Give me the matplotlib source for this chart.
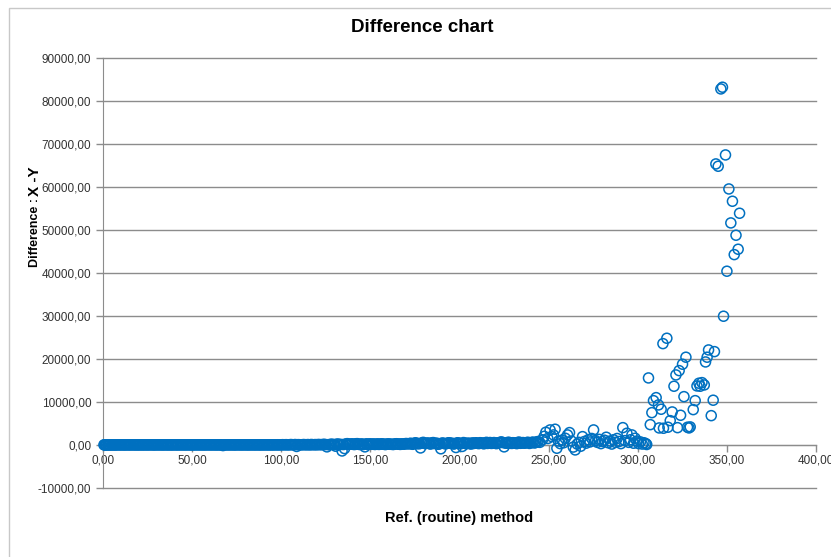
import matplotlib.pyplot as plt
from matplotlib.patches import Rectangle
from matplotlib.ticker import FuncFormatter, MultipleLocator

plt.rcParams['font.family'] = ['Liberation Sans', 'DejaVu Sans']

# near-zero differences over the low range of the reference method
flat_x = [
    0.5, 1.2, 2.0, 3.1, 4.0, 5.2, 6.5, 7.3, 8.8, 10.0,
    11.4, 12.6, 14.0, 15.3, 16.8, 18.1, 19.5, 20.7, 22.2, 23.6,
    25.0, 26.4, 27.9, 29.1, 30.6, 32.0, 33.5, 34.8, 36.2, 37.7,
    39.0, 40.5, 41.8, 43.3, 44.7, 46.1, 47.6, 49.0, 50.3, 51.8,
    53.2, 54.6, 56.1, 57.4, 58.9, 60.3, 61.7, 63.2, 64.5, 66.0,
    67.3, 68.8, 70.2, 71.6, 73.1, 74.4, 75.9, 77.3, 78.7, 80.2,
    81.5, 83.0, 84.4, 85.8, 87.3, 88.6, 90.1, 91.5, 92.9, 94.4,
    95.7, 97.2, 98.6, 100.0, 101.5, 102.8, 104.3, 105.7, 107.1, 108.6,
    109.9, 111.4, 112.8, 114.2, 115.7, 117.0, 118.5, 119.9, 121.3, 122.8,
    124.1, 125.6, 127.0, 128.4, 129.9, 131.2, 132.7, 134.1, 135.5, 137.0,
    138.3, 139.8, 141.2, 142.6, 144.1, 145.4, 146.9, 148.3, 149.7, 151.2,
    152.5, 154.0, 155.4, 156.8, 158.3, 159.6, 161.1, 162.5, 163.9, 165.4,
    166.7, 168.2, 169.6, 171.0, 172.5, 173.8, 175.3, 176.7, 178.1, 179.6,
    180.9, 182.4, 183.8, 185.2, 186.7, 188.0, 189.5, 190.9, 192.3, 193.8,
    195.1, 196.6, 198.0, 199.4, 200.9, 202.2, 203.7, 205.1, 206.5, 208.0,
    209.3, 210.8, 212.2, 213.6, 215.1, 216.4, 217.9, 219.3, 220.7, 222.2,
    223.5, 225.0, 226.4, 227.8, 229.3, 230.6, 232.1, 233.5, 234.9, 236.4,
    237.7, 239.2, 240.6, 242.0, 243.5,
]
flat_y = [
    20, 15, 30, 10, 25, 5, 20, 15, 10, 30,
    25, 10, 20, 15, 30, 5, 20, 25, 10, 15,
    20, 30, 10, 25, 15, 20, 5, 30, 15, 20,
    10, 25, 20, 15, 30, 10, 20, 25, 15, 20,
    30, 15, 10, 25, 20, 15, 30, 10, 20, 25,
    -150, 30, 20, 15, 25, 10, 30, 20, 15, 25,
    20, 15, 30, 10, 25, 20, 15, 30, 20, 10,
    25, 20, 15, 30, 40, 60, 20, 80, 50, -350,
    60, 30, 80, 40, 20, 100, 60, 30, 80, 50,
    120, -450, 60, 150, 80, 200, 100, -1400, -850, 300,
    150, 250, 100, 300, 80, 200, -450, 120, 250, 180,
    100, 250, 150, 200, 80, 220, 150, 100, 250, 180,
    120, 200, 300, 250, 400, 150, 500, 350, -700, 600,
    300, 450, 200, 550, 350, 150, -900, 400, 250, 500,
    350, 200, -600, 450, 300, 550, 250, 400, 200, 350,
    500, 300, 450, 250, 600, 400, 350, 550, 300, 500,
    700, -450, 400, 600, 350, 500, 300, 650, 450, 400,
    550, 350, 600, 450, 700,
]

# second run of samples in the same low range
flat2_x = [
    0.9, 1.6, 2.6, 3.5, 4.6, 5.8, 6.9, 8.0, 9.4, 10.7,
    12.0, 13.3, 14.6, 16.0, 17.4, 18.8, 20.1, 21.5, 22.9, 24.3,
    25.7, 27.1, 28.5, 29.8, 31.3, 32.7, 34.1, 35.5, 36.9, 38.3,
    39.7, 41.1, 42.5, 44.0, 45.4, 46.8, 48.3, 49.6, 51.0, 52.5,
    53.9, 55.3, 56.7, 58.1, 59.6, 61.0, 62.4, 63.8, 65.2, 66.6,
    68.0, 69.5, 70.9, 72.3, 73.7, 75.1, 76.6, 78.0, 79.4, 80.8,
    82.2, 83.7, 85.1, 86.5, 87.9, 89.3, 90.8, 92.2, 93.6, 95.0,
    96.4, 97.9, 99.3, 100.7, 102.1, 103.5, 105.0, 106.4, 107.8, 109.2,
    110.6, 112.1, 113.5, 114.9, 116.3, 117.7, 119.2, 120.6, 122.0, 123.4,
    124.8, 126.3, 127.7, 129.1, 130.5, 131.9, 133.4, 134.8, 136.2, 137.6,
    139.0, 140.5, 141.9, 143.3, 144.7, 146.1, 147.6, 149.0, 150.4, 151.8,
    153.2, 154.7, 156.1, 157.5, 158.9, 160.3, 161.8, 163.2, 164.6, 166.0,
    167.4, 168.9, 170.3, 171.7, 173.1, 174.5, 176.0, 177.4, 178.8, 180.2,
    181.6, 183.1, 184.5, 185.9, 187.3, 188.7, 190.2, 191.6, 193.0, 194.4,
    195.8, 197.3, 198.7, 200.1, 201.5, 202.9, 204.4, 205.8, 207.2, 208.6,
    210.0, 211.5, 212.9, 214.3, 215.7, 217.1, 218.6, 220.0, 221.4, 222.8,
    224.2, 225.7, 227.1, 228.5, 229.9, 231.3, 232.8, 234.2, 235.6, 237.0,
    238.4, 239.9, 241.3, 242.7, 244.1,
]
flat2_y = [
    10, 25, 15, 20, 10, 30, 15, 20, 25, 10,
    15, 30, 20, 10, 25, 15, 20, 10, 30, 20,
    15, 25, 20, 10, 30, 15, 25, 20, 10, 15,
    25, 20, 10, 30, 15, 20, 25, 10, 15, 30,
    20, 25, 15, 10, 30, 20, 15, 25, 10, 20,
    25, 15, 30, 20, 10, 25, 15, 20, 30, 10,
    15, 25, 20, 30, 10, 15, 25, 20, 10, 30,
    20, 40, 30, 60, 50, 30, 70, 40, 90, 60,
    40, 70, 50, 90, 60, 40, 80, 100, 70, 120,
    90, 60, 150, 100, -300, 180, 120, 90, 220, 150,
    200, 120, 280, 160, 220, 100, 260, 180, 140, 230,
    170, 120, 260, 200, 150, 240, 180, 130, 280, 210,
    250, 180, 320, 280, 220, 380, 300, 260, 450, 380,
    420, 300, 480, 320, 400, 250, 450, 300, 380, 460,
    400, 300, 500, 350, -350, 450, 380, 320, 480, 420,
    380, 520, 400, 480, 350, 560, 450, 380, 500, 620,
    550, 420, 600, 380, 520, 450, 600, 380, 550, 500,
    620, 480, 650, 580, 800,
]

# scatter picks up between 245 and 305
rise_x = [
    245.0, 246.5, 247.5, 248.4, 249.5, 250.8, 251.8, 252.7, 253.6, 254.6,
    255.5, 256.5, 257.5, 258.4, 259.3, 260.6, 261.7, 262.8, 263.8, 264.9,
    266.0, 267.0, 268.0, 269.0, 270.0, 271.0, 272.2, 273.2, 274.2, 275.2,
    276.3, 277.3, 278.3, 279.3, 280.3, 281.3, 282.3, 283.4, 284.4, 285.4,
    286.4, 287.4, 288.4, 289.5, 290.5, 291.6, 292.8, 293.9, 294.9, 295.9,
    296.7, 297.6, 298.5, 299.5, 300.5, 301.5, 302.5, 303.5, 304.5, 305.0,
]
rise_y = [
    600, 1200, 2000, 2950, 1500, 3490, 1930, 2330, 3650, -770,
    900, 300, 1100, 500, 1550, 2330, 2870, 900, -500, -1160,
    200, 600, -300, 1930, 800, 400, 1200, 700, 1500, 3490,
    1000, 600, 1300, 300, 800, 1100, 1790, 500, 900, 200,
    1200, 600, 1500, 800, 300, 4020, 1000, 2720, 600, 1200,
    2330, 400, 1550, 900, 300, 700, 200, 500, 300, 100,
]

# large differences above 305
high_x = [
    346.6, 347.5, 349.2, 343.8, 345.1, 351.1, 353.1, 357.1, 352.2, 355.1,
    356.3, 354.1, 350.0, 348.1, 316.3, 314.1, 327.0, 339.7, 343.0, 338.9,
    338.0, 325.1, 323.2, 321.4, 306.0, 320.3, 334.3, 336.0, 333.2, 337.3,
    335.0, 310.3, 308.8, 311.6, 313.1, 325.9, 332.2, 342.3, 307.9, 319.3,
    324.0, 331.1, 341.2, 307.0, 318.2, 316.9, 314.4, 312.0, 322.3, 327.9,
    329.4, 328.7,
]
high_y = [
    82790, 83190, 67440, 65350, 64810, 59530, 56670, 53880, 51630, 48770,
    45510, 44260, 40400, 29930, 24810, 23560, 20400, 22090, 21700, 20400,
    19300, 18770, 17280, 16280, 15580, 13650, 14350, 14490, 13720, 13950,
    13650, 11000, 10300, 9300, 8300, 11230, 10300, 10400, 7510, 7670,
    6900, 8210, 6810, 4720, 5650, 4120, 3880, 3950, 4020, 4120,
    4190, 3950,
]

x_vals = flat_x + flat2_x + rise_x + high_x
y_vals = flat_y + flat2_y + rise_y + high_y

fig = plt.figure(figsize=(8.31, 5.57), dpi=100)
ax = fig.add_axes([0.124, 0.124, 0.858, 0.772])

grid_c = '#8c8c8c'
ax.scatter(x_vals, y_vals, s=52, facecolors='none', edgecolors='#0070C0',
           linewidths=1.1, zorder=3, clip_on=False)

ax.set_xlim(0, 400)
ax.set_ylim(-10000, 90000)
ax.xaxis.set_major_locator(MultipleLocator(50))
ax.yaxis.set_major_locator(MultipleLocator(10000))
comma = FuncFormatter(lambda v, p: f'{v:.2f}'.replace('.', ','))
ax.xaxis.set_major_formatter(comma)
ax.yaxis.set_major_formatter(comma)

ax.grid(axis='y', color=grid_c, linewidth=1.0, zorder=0)
for gl in ax.get_ygridlines():
    gl.set_clip_on(False)
ax.set_axisbelow(True)
for s in ['top', 'right']:
    ax.spines[s].set_visible(False)
ax.spines['bottom'].set_position(('data', 0))
ax.spines['bottom'].set_color(grid_c)
ax.spines['left'].set_color(grid_c)
ax.tick_params(axis='both', colors=grid_c, labelcolor='#333333', labelsize=8.5,
               direction='out', length=5, width=1.0)
ax.tick_params(axis='x', pad=2)

fig.suptitle('Difference chart', x=0.508, y=0.965, fontsize=13.5, fontweight='bold')
fig.text(0.553, 1 - 518 / 557, 'Ref. (routine) method', ha='center', va='center',
         fontsize=10.5, fontweight='bold')
fig.text(35 / 831, 1 - 267 / 557, 'Difference : ', rotation=90, ha='center',
         va='bottom', fontsize=9, fontweight='bold')
fig.text(35 / 831, 1 - 196 / 557, 'X -Y', rotation=90, ha='center',
         va='bottom', fontsize=11, fontweight='bold')

# thin chart border
fig.patches.append(Rectangle((9 / 831, -0.05), 1.1, 1 - 8 / 557 + 0.05,
                             transform=fig.transFigure, fill=False,
                             edgecolor='#c8c8c8', linewidth=1.0))

fig.savefig('out.png', dpi=100)
